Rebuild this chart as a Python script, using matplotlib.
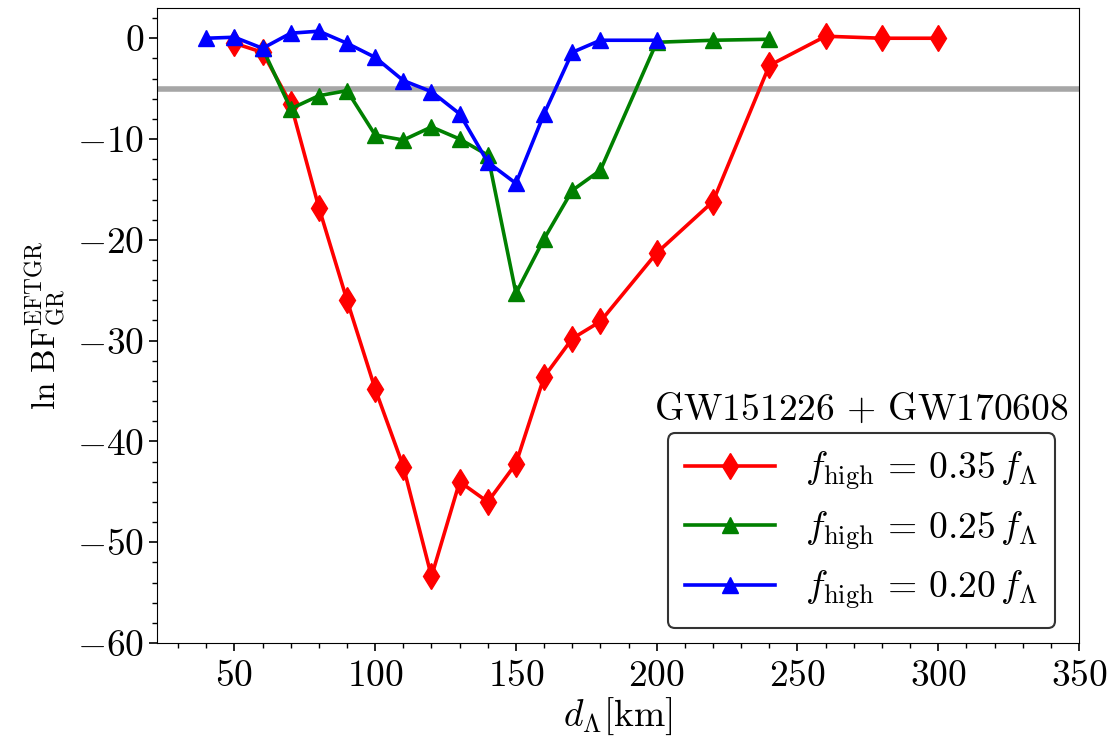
import matplotlib
matplotlib.use("Agg")
import matplotlib.pyplot as plt
from matplotlib.ticker import MultipleLocator

plt.rcParams['mathtext.fontset'] = 'cm'
plt.rcParams['font.family'] = ['serif']
plt.rcParams['font.serif'] = ['cmr10', 'DejaVu Serif']
plt.rcParams['axes.formatter.use_mathtext'] = True

# data
x_red = [50, 60, 70, 80, 90, 100, 110, 120, 130, 140, 150, 160, 170, 180, 200, 220, 240, 260, 280, 300]
y_red = [-0.5, -1.4, -6.5, -16.8, -26.0, -34.8, -42.5, -53.4, -44.0, -46.0, -42.2, -33.6, -29.8, -28.1,
         -21.3, -16.2, -2.7, 0.2, 0.0, 0.0]
x_green = [60, 70, 80, 90, 100, 110, 120, 130, 140, 150, 160, 170, 180, 200, 220, 240]
y_green = [-1.0, -7.0, -5.7, -5.2, -9.6, -10.1, -8.8, -10.0, -11.6, -25.3, -19.9, -15.1, -13.1, -0.4, -0.2, -0.1]
x_blue = [40, 50, 60, 70, 80, 90, 100, 110, 120, 130, 140, 150, 160, 170, 180, 200]
y_blue = [0.0, 0.1, -1.0, 0.5, 0.7, -0.5, -1.9, -4.2, -5.3, -7.5, -12.3, -14.4, -7.5, -1.4, -0.2, -0.2]
threshold = -5
labels = [r'$f_{\rm high}\,=\,0.35\,f_\Lambda$', r'$f_{\rm high}\,=\,0.25\,f_\Lambda$',
          r'$f_{\rm high}\,=\,0.20\,f_\Lambda$']
legend_title = r'$\mathrm{GW151226}\,+\,\mathrm{GW170608}$'

W, H = 1111, 743
fig = plt.figure(figsize=(W / 100, H / 100), dpi=100)
ax = fig.add_axes([157 / W, 1 - 643 / H, 922 / W, 635 / H])

ax.axhline(threshold, color='#a6a6a6', lw=4, zorder=1)
ax.plot(x_red, y_red, color='red', marker='d', ms=13, lw=2.6, label=labels[0], zorder=3)
ax.plot(x_green, y_green, color='green', marker='^', ms=12, lw=2.6, label=labels[1], zorder=3)
ax.plot(x_blue, y_blue, color='blue', marker='^', ms=12, lw=2.6, label=labels[2], zorder=3)

ax.set_xlim(22.5, 350)
ax.set_ylim(-60, 3)
ax.xaxis.set_major_locator(MultipleLocator(50))
ax.xaxis.set_minor_locator(MultipleLocator(10))
ax.yaxis.set_major_locator(MultipleLocator(10))
ax.yaxis.set_minor_locator(MultipleLocator(2))
ax.tick_params(which='major', direction='out', length=6, width=1.2, labelsize=27)
ax.tick_params(axis='x', which='major', pad=6)
ax.tick_params(which='minor', direction='out', length=3.5, width=1.0)

ax.set_xlabel(r'$d_\Lambda[\mathrm{km}]$', fontsize=27, labelpad=2)
ax.set_ylabel(r'$\ln\,\mathrm{BF}^{\rm EFTGR}_{\rm GR}$', fontsize=24, labelpad=6)

leg = ax.legend(loc='lower right', bbox_to_anchor=((1055 - 157) / 922, (643 - 628) / 635),
                fontsize=27, frameon=True, fancybox=True, edgecolor='#333333', framealpha=1,
                handlelength=2.4, handletextpad=0.8, labelspacing=0.45, borderaxespad=0.0,
                borderpad=0.45)
leg.get_frame().set_linewidth(1.5)

fig.canvas.draw()
bb = leg.get_window_extent()
fig.text((bb.x0 + bb.x1) / 2 / W, (bb.y1 + 13) / H, legend_title, fontsize=27,
         ha='center', va='baseline')

fig.savefig('out.png', dpi=100)
